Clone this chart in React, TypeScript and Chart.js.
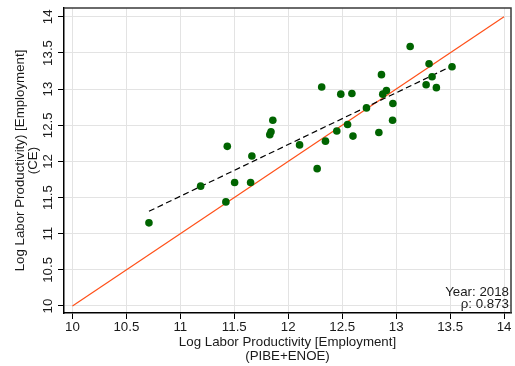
import React, { useEffect, useRef } from 'react';
import { Chart, registerables } from 'chart.js';

Chart.register(...registerables);

// Log labor productivity by state: x = PIBE+ENOE, y = CE
const stateX = [
  10.709, 11.188, 11.435, 11.663, 11.503, 11.651, 11.422, 11.857,
  11.84, 11.829, 12.105, 12.268, 12.345, 12.45, 12.55, 12.6,
  12.725, 13.13, 13.305, 13.518, 13.333, 13.278, 13.373, 12.864,
  12.91, 12.876, 12.97, 12.967, 12.59, 12.84, 12.31, 12.487,
];
const stateY = [
  11.15, 11.658, 12.208, 12.075, 11.708, 11.708, 11.44, 12.57,
  12.41, 12.37, 12.228, 11.9, 12.28, 12.42, 12.51, 12.35,
  12.74, 13.59, 13.35, 13.31, 13.17, 13.06, 13.02, 13.2,
  12.98, 12.93, 12.8, 12.57, 12.94, 12.4, 13.03, 12.93,
];

// Linear fit (dashed) and 45-degree line
const fitX = [10.709, 13.518];
const fitY = [11.31, 13.32];
const diagX = [10, 14];
const diagY = [10, 14];

const xTicks = [10, 10.5, 11, 11.5, 12, 12.5, 13, 13.5, 14];
const yTicks = [10, 10.5, 11, 11.5, 12, 12.5, 13, 13.5, 14];

const xTitle = ['Log Labor Productivity [Employment]', '(PIBE+ENOE)'];
const yTitle = ['Log Labor Productivity) [Employment]', '(CE)'];
const yearLabel = 'Year: 2018';
const rhoLabel = 'ρ: 0.873';

const FONT = "'Liberation Sans', Arial, Helvetica, sans-serif";
const TEXT = '#1a1a1a';

const framePlugin = {
  id: 'frameAndNote',
  afterDatasetsDraw(chart: any) {
    const { ctx, chartArea } = chart;
    const { left, right, top, bottom } = chartArea;
    ctx.save();
    ctx.strokeStyle = '#3a3a3a';
    ctx.lineWidth = 1.5;
    ctx.beginPath();
    ctx.moveTo(left, top);
    ctx.lineTo(right, top);
    ctx.lineTo(right, bottom);
    ctx.stroke();
    ctx.font = `13.3px ${FONT}`;
    ctx.fillStyle = TEXT;
    ctx.textAlign = 'right';
    ctx.textBaseline = 'alphabetic';
    ctx.fillText(yearLabel, right - 2, bottom - 17);
    ctx.fillText(rhoLabel, right - 2, bottom - 5);
    ctx.restore();
  },
};

export default function App() {
  const ref = useRef<HTMLCanvasElement | null>(null);

  useEffect(() => {
    if (!ref.current) return;
    const chart = new Chart(ref.current, {
      type: 'scatter',
      data: {
        datasets: [
          {
            type: 'scatter',
            data: stateX.map((x, i) => ({ x, y: stateY[i] })),
            backgroundColor: '#006400',
            borderWidth: 0,
            pointRadius: 3.8,
            order: 0,
          },
          {
            type: 'line',
            data: fitX.map((x, i) => ({ x, y: fitY[i] })),
            borderColor: '#000000',
            borderWidth: 1.2,
            borderDash: [6, 3.5],
            pointRadius: 0,
            fill: false,
            order: 1,
          },
          {
            type: 'line',
            data: diagX.map((x, i) => ({ x, y: diagY[i] })),
            borderColor: 'rgb(255,80,25)',
            borderWidth: 1.2,
            pointRadius: 0,
            fill: false,
            order: 2,
          },
        ],
      } as any,
      options: {
        responsive: false,
        animation: false,
        layout: { padding: { top: 8, right: 2, left: 0, bottom: 0 } },
        plugins: {
          legend: { display: false },
          tooltip: { enabled: false },
        },
        scales: {
          x: {
            type: 'linear',
            min: 9.9216,
            max: 14.0646,
            afterBuildTicks: (s: any) => {
              s.ticks = xTicks.map((v) => ({ value: v }));
            },
            afterFit: (s: any) => {
              s.height = 53;
            },
            grid: { color: '#e3e3e3', lineWidth: 1, tickLength: 6, tickColor: '#000', drawTicks: true },
            border: { color: '#000', width: 1.5 },
            ticks: {
              color: TEXT,
              font: { family: FONT, size: 13.3 },
              padding: 0,
              maxRotation: 0,
              autoSkip: false,
              callback: (v: any) => String(v),
            },
            title: {
              display: true,
              text: xTitle,
              color: TEXT,
              font: { family: FONT, size: 13.3, lineHeight: 1 },
              padding: { top: 0, bottom: 3.5 },
            },
          },
          y: {
            type: 'linear',
            min: 9.903,
            max: 14.122,
            afterBuildTicks: (s: any) => {
              s.ticks = yTicks.map((v) => ({ value: v }));
            },
            afterFit: (s: any) => {
              s.width = 64;
            },
            grid: { color: '#e3e3e3', lineWidth: 1, tickLength: 6, tickColor: '#000', drawTicks: true },
            border: { color: '#000', width: 1.5 },
            ticks: {
              color: TEXT,
              font: { family: FONT, size: 13.3 },
              padding: -3,
              minRotation: 90,
              maxRotation: 90,
              crossAlign: 'center',
              autoSkip: false,
              callback: (v: any) => String(v),
            },
            title: {
              display: true,
              text: yTitle,
              color: TEXT,
              font: { family: FONT, size: 13.3, lineHeight: 1 },
              padding: { top: 13.3, bottom: 0 },
            },
          },
        },
      } as any,
      plugins: [framePlugin],
    });
    return () => chart.destroy();
  }, []);

  return (
    <div style={{ position: 'absolute', left: 0, top: 0, width: 515, height: 366, background: '#fff' }}>
      <canvas ref={ref} width={515} height={366} style={{ display: 'block' }} />
    </div>
  );
}
